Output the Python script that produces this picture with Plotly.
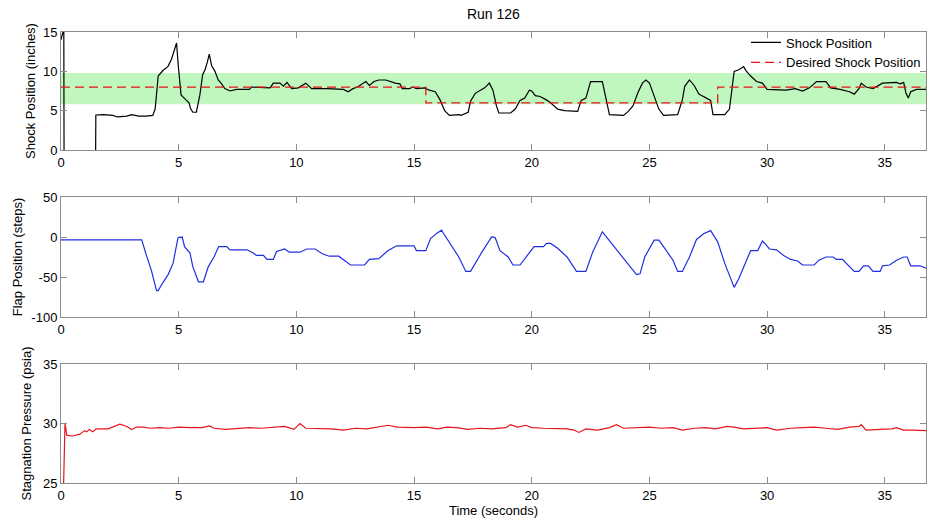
import plotly.graph_objects as go

# ---- Run 126 measurements ----
shock_t = [0, 0.08, 0.12, 0.13, 1.47, 1.48, 1.8, 2.2, 2.4, 2.8, 3.0, 3.3, 3.6, 3.9, 4.0,
           4.13, 4.33, 4.54, 4.69, 4.84, 4.91, 4.98, 5.1, 5.3, 5.44, 5.5, 5.6, 5.75, 5.9,
           6.02, 6.12, 6.22, 6.3, 6.4, 6.54, 6.68, 6.8, 6.96, 7.18, 7.46, 8.0, 8.1, 8.6,
           8.88, 9.02, 9.3, 9.45, 9.6, 9.8, 10.08, 10.4, 10.65, 11.3, 12.0, 12.2, 12.4,
           12.6, 12.8, 12.95, 13.1, 13.3, 13.5, 13.8, 14.2, 14.4, 14.5, 14.8, 14.95, 15.1,
           15.45, 15.65, 15.9, 16.1, 16.3, 16.5, 16.9, 17.0, 17.3, 17.4, 17.6, 17.8, 18.0,
           18.2, 18.35, 18.5, 18.6, 19.1, 19.3, 19.5, 19.7, 19.9, 20.0, 20.15, 20.35, 20.6,
           20.8, 21.1, 21.4, 21.95, 22.1, 22.3, 22.45, 22.5, 23.0, 23.15, 23.3, 23.9, 24.1,
           24.3, 24.5, 24.7, 24.85, 25.0, 25.2, 25.4, 25.6, 26.2, 26.4, 26.5, 26.7, 26.9,
           27.1, 27.4, 27.6, 27.7, 28.2, 28.4, 28.6, 28.8, 29.0, 29.1, 29.3, 29.55, 29.8,
           30.0, 30.8, 31.2, 31.5, 31.8, 32.1, 32.5, 32.7, 33.1, 33.5, 33.7, 33.9, 34.0,
           34.2, 34.5, 34.9, 35.5, 35.65, 35.8, 35.9, 36.0, 36.1, 36.35, 36.75]
shock_pos = [14.0, 15, 15, -1, -1, 4.45, 4.5, 4.4, 4.2, 4.3, 4.5, 4.3, 4.3, 4.4, 5.2,
             9.4, 10.1, 10.6, 11.5, 13.0, 13.6, 10.8, 7.0, 6.4, 6.0, 5.3, 4.8, 4.8, 7.0,
             9.6, 10.2, 11.2, 12.2, 10.7, 10.0, 8.9, 8.5, 7.8, 7.5, 7.7, 7.7, 8.0, 7.9,
             7.9, 8.5, 8.5, 8.1, 8.6, 7.8, 7.9, 8.5, 7.8, 7.8, 7.7, 7.4, 7.8,
             8.0, 8.4, 8.7, 8.2, 8.7, 8.9, 8.9, 8.5, 8.4, 7.8, 7.8, 8.0, 7.8,
             7.9, 7.6, 7.4, 6.4, 5.0, 4.4, 4.5, 4.4, 4.8, 6.2, 7.2, 7.6, 7.9,
             8.5, 7.6, 5.6, 4.7, 4.7, 5.2, 6.3, 6.6, 7.6, 7.5, 6.9, 6.8, 6.4,
             6.0, 5.2, 5.0, 4.9, 6.3, 6.6, 8.4, 8.7, 8.7, 6.4, 4.5, 4.4, 4.9,
             5.6, 7.2, 8.5, 8.9, 8.5, 6.9, 5.2, 4.4, 4.5, 6.4, 8.1, 8.9, 8.2,
             7.1, 6.6, 6.3, 4.5, 4.5, 5.2, 10.0, 10.2, 10.6, 10.1, 9.4, 8.7, 8.5,
             7.7, 7.6, 7.8, 7.5, 7.9, 8.7, 8.7, 7.9, 7.7, 7.4, 7.1, 7.8, 8.5,
             8.0, 7.8, 8.5, 8.6, 8.4, 8.6, 7.2, 6.6, 7.4, 7.7, 7.7]

desired_t = [0, 15.5, 27.9, 36.75]
desired_pos = [8, 6, 8, 8]
band_low, band_high = 5.8, 9.8

flap_t = [0, 3.43, 3.64, 3.85, 4.06, 4.13, 4.35, 4.55, 4.76, 4.9, 4.97, 5.05, 5.1, 5.15,
          5.25, 5.48, 5.6, 5.84, 6.05, 6.26, 6.5, 6.7, 7.04, 7.18, 7.9, 8.17, 8.3, 8.6,
          8.75, 9.02, 9.16, 9.5, 9.7, 10.15, 10.44, 10.8, 11.1, 11.4, 11.8, 12.3, 12.9,
          13.1, 13.5, 13.9, 14.26, 15.0, 15.1, 15.5, 15.7, 15.96, 16.17, 16.22, 16.6,
          16.9, 17.2, 17.4, 17.9, 18.3, 18.45, 18.65, 19.0, 19.2, 19.5, 19.85, 20.1,
          20.5, 20.63, 20.8, 21.1, 21.5, 21.9, 22.3, 22.6, 23.0, 23.45, 23.96, 24.45,
          24.6, 24.8, 25.2, 25.4, 25.6, 26.0, 26.2, 26.4, 26.7, 27.0, 27.3, 27.6, 27.9,
          28.2, 28.6, 28.8, 29.1, 29.3, 29.6, 29.8, 29.9, 30.1, 30.4, 30.7, 31.0, 31.3,
          31.5, 32.0, 32.2, 32.5, 32.8, 32.95, 33.2, 33.45, 33.7, 33.9, 34.1, 34.3, 34.5,
          34.8, 34.9, 35.2, 35.5, 35.8, 35.95, 36.1, 36.5, 36.75]
flap_pos = [-3.5, -3.5, -24, -43, -67, -67, -56, -47, -33, -12, -1, 0, -1, 0,
            -12, -20, -37, -56, -56, -37, -25, -12, -12, -16, -16, -20, -23, -23,
            -28, -28, -18, -15, -19, -19, -15, -15, -21, -24, -24, -35, -35,
            -28, -27, -17, -11, -11, -17, -17, -2, 4.5, 8.5, 6, -12,
            -25, -43, -43, -18, 0.5, -1, -17, -25, -35, -35, -21, -12,
            -12, -8, -8, -14, -25, -43, -43, -18, 6.5, -10, -29, -47,
            -46, -25, -4, -4, -12, -29, -43, -43, -25, -3, 4, 8, -6,
            -33, -63, -52, -31, -17, -17, -5, -8, -15, -16, -23, -28, -30,
            -35, -35, -29, -25, -25, -28, -28, -35, -43, -43, -36, -36, -43,
            -43, -36, -35, -29, -25, -25, -36, -36, -39]

press_t = [0.10, 0.17, 0.25, 0.5, 0.8, 1.0, 1.1, 1.2, 1.35, 1.5, 2.0, 2.2, 2.5, 2.8, 3.0,
           3.2, 3.5, 3.8, 4.2, 4.6, 5.0, 5.5, 6.0, 6.3, 6.5, 7.0, 7.5, 8.0, 8.5, 9.0, 9.5,
           9.9, 10.15, 10.4, 11.0, 11.5, 12.0, 12.5, 13.0, 13.5, 13.9, 14.3, 15.0, 15.5,
           16.0, 16.4, 16.8, 17.3, 17.8, 18.3, 18.9, 19.1, 19.4, 19.75, 20.0, 20.5, 21.0,
           21.5, 21.8, 22.0, 22.3, 22.8, 23.3, 23.6, 23.9, 24.5, 25.0, 25.5, 26.0, 26.4,
           26.9, 27.4, 27.8, 28.3, 28.6, 29.0, 29.5, 30.0, 30.4, 31.0, 31.5, 32.0, 32.5,
           33.0, 33.5, 33.9, 34.0, 34.2, 34.8, 35.3, 35.5, 35.8, 36.2, 36.75]
press_val = [24.0, 30.0, 29.0, 28.95, 29.1, 29.4, 29.3, 29.5, 29.3, 29.55, 29.55, 29.7,
             29.95, 29.75, 29.5, 29.7, 29.7, 29.6, 29.65, 29.6, 29.7, 29.65, 29.65, 29.8,
             29.6, 29.5, 29.6, 29.65, 29.6, 29.7, 29.75, 29.5, 30.0, 29.6, 29.6, 29.55,
             29.45, 29.6, 29.55, 29.7, 29.85, 29.7, 29.65, 29.7, 29.55, 29.7, 29.65, 29.5,
             29.6, 29.55, 29.65, 29.9, 29.7, 29.85, 29.65, 29.6, 29.6, 29.55, 29.45, 29.25,
             29.55, 29.45, 29.65, 29.9, 29.6, 29.65, 29.7, 29.6, 29.65, 29.45, 29.6, 29.65,
             29.55, 29.75, 29.7, 29.55, 29.6, 29.65, 29.45, 29.6, 29.65, 29.7, 29.6, 29.5,
             29.7, 29.75, 29.9, 29.45, 29.5, 29.55, 29.65, 29.45, 29.45, 29.4]

x_max = 36.75
x_ticks = [0, 5, 10, 15, 20, 25, 30, 35]

FONT = "Liberation Sans, Arial, sans-serif"
AXIS_GREY = "#8c8c8c"

fig = go.Figure()

fig.add_trace(go.Scatter(x=shock_t, y=shock_pos, mode="lines", name="Shock Position",
                         line=dict(color="black", width=1.2), xaxis="x", yaxis="y"))
fig.add_trace(go.Scatter(x=desired_t, y=desired_pos, mode="lines", name="Desired Shock Position",
                         line=dict(color="#e8141b", width=1.3, dash="9px,5px", shape="hv"),
                         xaxis="x", yaxis="y"))
fig.add_trace(go.Scatter(x=flap_t, y=flap_pos, mode="lines", showlegend=False,
                         line=dict(color="#1f2ee0", width=1.2), xaxis="x2", yaxis="y2"))
fig.add_trace(go.Scatter(x=press_t, y=press_val, mode="lines", showlegend=False,
                         line=dict(color="#e8141b", width=1.2), xaxis="x3", yaxis="y3"))

# tolerance band around the desired shock position
fig.add_shape(type="rect", xref="x", yref="y", x0=0, x1=x_max, y0=band_low, y1=band_high,
              fillcolor="#bff7bf", line=dict(width=0), layer="below")

common_x = dict(range=[0, x_max], tickvals=x_ticks, ticks="inside", ticklen=6,
                tickcolor=AXIS_GREY, showline=True, linecolor=AXIS_GREY, linewidth=1,
                mirror="allticks", showgrid=False, zeroline=False,
                tickfont=dict(family=FONT, size=13, color="black"))
common_y = dict(ticks="inside", ticklen=6, tickcolor=AXIS_GREY, showline=True,
                linecolor=AXIS_GREY, linewidth=1, mirror="allticks", showgrid=False,
                zeroline=False, tickfont=dict(family=FONT, size=13, color="black"))

fig.update_layout(
    width=930, height=521,
    margin=dict(l=61, r=4, t=32, b=38),
    paper_bgcolor="white", plot_bgcolor="white",
    font=dict(family=FONT, size=13, color="black"),
    title=dict(text="Run 126", x=0.5305, xanchor="center", y=0.972, yanchor="middle",
               font=dict(family=FONT, size=14, color="black")),
    xaxis=dict(common_x, domain=[0, 1], anchor="y"),
    xaxis2=dict(common_x, domain=[0, 1], anchor="y2"),
    xaxis3=dict(common_x, domain=[0, 1], anchor="y3",
                title=dict(text="Time (seconds)", standoff=2,
                           font=dict(family=FONT, size=13, color="black"))),
    yaxis=dict(common_y, domain=[0.7384, 1.0], range=[0, 15], tickvals=[0, 5, 10, 15],
               anchor="x",
               title=dict(text="Shock Position (inches)", standoff=4,
                          font=dict(family=FONT, size=13, color="black"))),
    yaxis2=dict(common_y, domain=[0.3681, 0.6341], range=[-100, 50],
                tickvals=[-100, -50, 0, 50], ticktext=["-100", "-50", "0", "50"],
                anchor="x2",
                title=dict(text="Flap Position (steps)", standoff=5,
                           font=dict(family=FONT, size=13, color="black"))),
    yaxis3=dict(common_y, domain=[0.0, 0.2639], range=[25, 35], tickvals=[25, 30, 35],
                anchor="x3",
                title=dict(text="Stagnation Pressure (psia)", standoff=8,
                           font=dict(family=FONT, size=13, color="black"))),
    legend=dict(x=1.0, xanchor="right", y=1.01, yanchor="top", bgcolor="rgba(255,255,255,0)",
                borderwidth=0, font=dict(family=FONT, size=13, color="black"),
                tracegroupgap=0, itemwidth=30),
)

fig.write_html("out.html")
